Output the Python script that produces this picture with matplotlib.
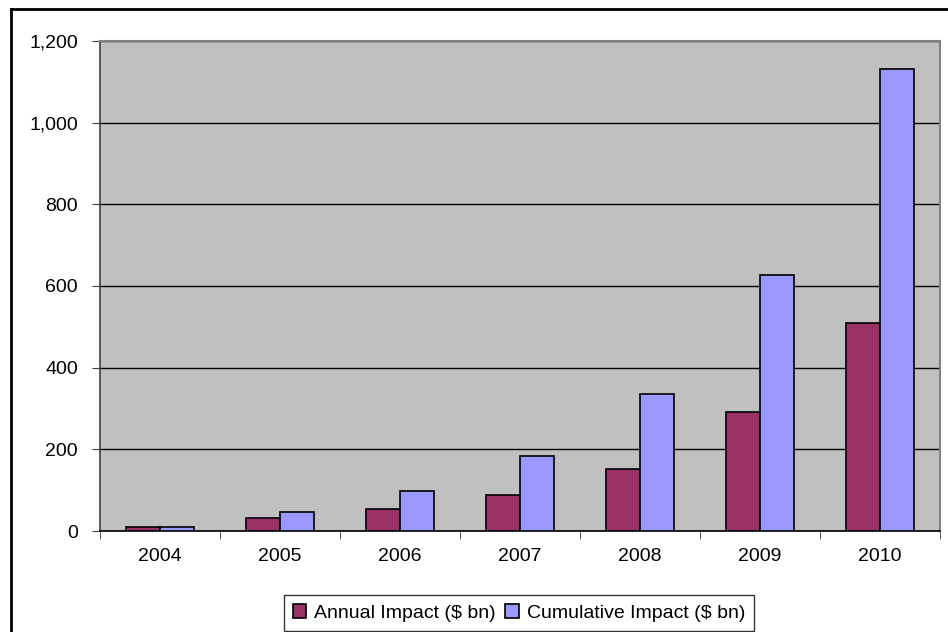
import matplotlib
matplotlib.use("Agg")
import matplotlib.pyplot as plt
from matplotlib.lines import Line2D
from matplotlib.ticker import FuncFormatter, MultipleLocator
import numpy as np

years = ["2004", "2005", "2006", "2007", "2008", "2009", "2010"]
annual = [11, 33, 55, 89, 153, 292, 509]
cumulative = [11, 46, 97, 184, 336, 627, 1131]

plt.rcParams['font.family'] = ['Liberation Sans', 'DejaVu Sans']

W, H = 948, 632
fig = plt.figure(figsize=(W / 100, H / 100), dpi=100)
ax = fig.add_axes([100 / W, 1 - 531 / H, 840 / W, 490 / H])
ax.set_facecolor('#C0C0C0')

x = np.arange(len(years))
bw = 1 / 3.5
ax.bar(x - bw / 2, annual, bw, color='#993366', edgecolor='black', linewidth=1.2,
       label='Annual Impact ($ bn)', zorder=3)
ax.bar(x + bw / 2, cumulative, bw, color='#9999FF', edgecolor='black', linewidth=1.2,
       label='Cumulative Impact ($ bn)', zorder=3)

ax.set_xlim(-0.5, len(years) - 0.5)
ax.set_ylim(0, 1200)
ax.yaxis.set_major_locator(MultipleLocator(200))
ax.yaxis.set_major_formatter(FuncFormatter(lambda v, p: f"{int(v):,}"))
ax.yaxis.grid(True, color='black', linewidth=1, zorder=1)
ax.set_axisbelow(True)

ax.set_xticks(x)
ax.set_xticklabels(years)
ax.set_xticks(np.arange(-0.5, len(years)), minor=True)
ax.tick_params(axis='x', which='major', length=0, pad=12, labelsize=14)
ax.tick_params(axis='x', which='minor', length=6, color='#404040', direction='out')
ax.tick_params(axis='y', length=6, color='#404040', direction='out', pad=10, labelsize=14)

for s in ['top', 'right']:
    ax.spines[s].set_color('#808080')
    ax.spines[s].set_linewidth(1.5)
ax.spines['left'].set_color('#404040')
ax.spines['left'].set_linewidth(1.2)
ax.spines['bottom'].set_color('black')
ax.spines['bottom'].set_linewidth(1.2)

leg = fig.legend(loc='center', bbox_to_anchor=(519 / W, 1 - 613 / H),
                 ncol=2, frameon=True, fancybox=False, edgecolor='black',
                 fontsize=14, handlelength=0.7, handleheight=0.7,
                 handletextpad=0.4, columnspacing=0.5, borderpad=0.45,
                 borderaxespad=0)
leg.get_frame().set_linewidth(1.0)

# outer chart border (top and left visible)
fig.add_artist(Line2D([11 / W, 11 / W], [0, 1 - 9 / H], transform=fig.transFigure,
                      color='black', linewidth=2))
fig.add_artist(Line2D([11 / W, 1], [1 - 9 / H, 1 - 9 / H], transform=fig.transFigure,
                      color='black', linewidth=2))

fig.savefig('out.png', dpi=100)
